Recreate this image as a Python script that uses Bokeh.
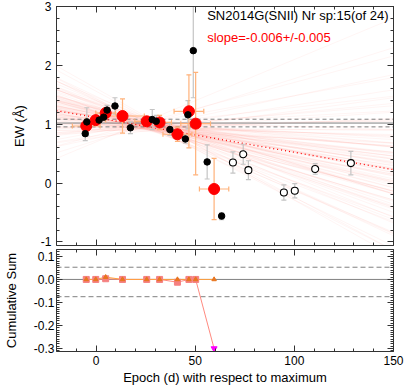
import math
import numpy as np
from bokeh.plotting import figure
from bokeh.models import (LinearAxis, Range1d, Label, CustomJSTickFormatter, FixedTicker)
from bokeh.layouts import column
from bokeh.embed import file_html
from bokeh.resources import INLINE

# ---------------- data ----------------
red_epoch = [-5.0, -0.2, 4.8, 13.3, 25.5, 32.0, 41.0, 46.8, 50.2, 59.5]
red_ew = [0.97, 1.07, 1.19, 1.14, 1.05, 1.03, 0.83, 1.22, 1.01, -0.10]
red_ew_err = [0.05, 0.06, 0.08, 0.29, 0.08, 0.12, 0.12, 0.62, 0.87, 0.52]
red_epoch_err = [7.0, 5.0, 5.0, 11.0, 6.0, 6.0, 7.3, 7.5, 7.5, 7.4]

black_epoch = [-5.5, -4.7, 1.5, 3.8, 5.5, 9.5, 17.3, 28.3, 30.3, 37.2, 45.0, 46.3, 49.0, 56.0, 63.3]
black_ew = [0.84, 1.04, 1.07, 1.12, 1.24, 1.31, 0.94, 1.08, 1.05, 0.91, 0.75, 1.16, 2.25, 0.36, -0.56]
black_ew_err = [0.12, 0.24, 0.05, 0.06, 0.08, 0.14, 0.10, 0.17, 0.10, 0.10, 0.07, 0.24, 0.80, 0.29, 0.06]

open_epoch = [69.0, 74.2, 76.8, 94.7, 100.2, 110.5, 128.5]
open_ew = [0.35, 0.49, 0.22, -0.16, -0.13, 0.24, 0.34]
open_ew_err = [0.18, 0.17, 0.16, 0.13, 0.12, 0.09, 0.20]

ew_mean = 1.02
ew_mean_lo = 0.955
ew_mean_hi = 1.085

fit_slope = -0.0059
fit_at_zero = 1.113

# Monte-Carlo fit realisations: slope and value at epoch 30
mc_slope = [-0.0190, -0.0180, -0.0172, -0.0165, -0.0158, -0.0152, -0.0147, -0.0143, -0.0139, -0.0136,
            -0.0130, -0.0127, -0.0124, -0.0121, -0.0119, -0.0116, -0.0114, -0.0110, -0.0108, -0.0106,
            -0.0104, -0.0102, -0.0100, -0.0098, -0.0096, -0.0095, -0.0092, -0.0090, -0.0089, -0.0087,
            -0.0086, -0.0085, -0.0084, -0.0083, -0.0080, -0.0078, -0.0077, -0.0075, -0.0073, -0.0072,
            -0.0070, -0.0069, -0.0067, -0.0066, -0.0065, -0.0063, -0.0062, -0.0061, -0.0060, -0.0058,
            -0.0057, -0.0055, -0.0054, -0.0053, -0.0051, -0.0050, -0.0049, -0.0048, -0.0046, -0.0045,
            -0.0043, -0.0042, -0.0040, -0.0039, -0.0037, -0.0036, -0.0035, -0.0032, -0.0031, -0.0029,
            -0.0028, -0.0026, -0.0025, -0.0023, -0.0020, -0.0019, -0.0016, -0.0014, -0.0012, -0.0010,
            -0.0008, -0.0004, -0.0002, 0.0001, 0.0004, 0.0007, 0.0011, 0.0014, 0.0018, 0.0022,
            0.0027, 0.0032, 0.0038, 0.0045, 0.0052, 0.0062, 0.0072, 0.0090, 0.0105, 0.0140]
mc_val30 = [1.04, 1.02, 0.92, 0.91, 1.00, 0.97, 0.90, 0.88, 0.99, 1.05,
            0.94, 0.87, 0.99, 1.03, 0.86, 0.95, 1.01, 0.93, 0.89, 0.96,
            1.06, 1.04, 0.91, 0.89, 0.98, 1.00, 0.92, 0.94, 1.03, 0.97,
            0.95, 0.88, 1.02, 0.87, 1.00, 0.93, 0.94, 0.97, 1.05, 0.90,
            0.96, 1.01, 1.06, 0.92, 0.93, 0.99, 0.97, 0.88, 0.96, 1.02,
            0.90, 0.91, 0.94, 0.98, 1.03, 0.95, 0.89, 0.98, 0.92, 1.00,
            1.01, 0.96, 0.89, 0.93, 0.97, 1.04, 0.94, 0.90, 0.99, 0.96,
            1.02, 0.99, 0.93, 0.91, 0.98, 1.00, 0.87, 0.96, 0.95, 1.03,
            0.92, 0.94, 0.98, 0.90, 1.01, 0.97, 0.95, 0.93, 1.01, 0.94,
            0.99, 0.97, 1.02, 0.91, 0.96, 1.05, 0.98, 1.08, 1.04, 1.12]

cs_a = [0.0, 0.0, 0.010, 0.0, 0.0, 0.0, 0.0, 0.0, 0.0, 0.0]
cs_b = [0.0, 0.0, 0.003, 0.0, 0.0, 0.0, -0.012, 0.0, 0.0, -0.30]
cs_hi = 0.053
cs_lo = -0.075

x_major = [0, 50, 100, 150]
x_minor = list(range(-20, 151, 10))
ew_major = [-1, 0, 1, 2, 3]
cs_major = [-0.3, -0.2, -0.1, 0.0, 0.1]

X0, X1 = -20, 150
FONT = "Liberation Sans"
AX = "#333333"

# ---------------- helpers ----------------
def style_axis(ax, ticker, fmt, show=True, size="12px", standoff=4):
    ax.ticker = ticker
    ax.formatter = CustomJSTickFormatter(code=fmt)
    ax.major_tick_in = 6
    ax.major_tick_out = 0
    ax.minor_tick_in = 3
    ax.minor_tick_out = 0
    ax.axis_line_color = AX
    ax.major_tick_line_color = AX
    ax.minor_tick_line_color = AX
    ax.major_label_text_font = FONT
    ax.axis_label_text_font = FONT
    ax.axis_label_text_font_style = "normal"
    ax.axis_label_text_font_size = "13px"
    ax.axis_label_text_color = "black"
    if show:
        ax.major_label_text_color = "black"
        ax.major_label_text_font_size = size
        ax.major_label_standoff = standoff
    else:
        ax.formatter = CustomJSTickFormatter(code='return "";')
        ax.major_label_text_color = None
        ax.major_label_text_font_size = "0px"
        ax.major_label_standoff = 0

def make_fig(y0, y1, h, top_b, bot_b):
    f = figure(width=405, height=h,
               x_range=Range1d(X0, X1), y_range=Range1d(y0, y1),
               output_backend="svg", toolbar_location=None,
               min_border_left=53, min_border_right=12,
               min_border_top=top_b, min_border_bottom=bot_b)
    f.grid.visible = False
    f.outline_line_color = None
    f.background_fill_color = "white"
    f.border_fill_color = "white"
    return f

# ---------------- top panel ----------------
top = make_fig(-1.06, 3.0, 249, 6, 4)

ytick_top = FixedTicker(ticks=ew_major, minor_ticks=[round(v, 2) for v in np.arange(-1.0, 3.01, 0.2)])
xtick = FixedTicker(ticks=x_major, minor_ticks=x_minor)

style_axis(top.yaxis[0], ytick_top, "return tick.toFixed(0);", show=True, standoff=5)
top.yaxis[0].axis_label = "EW (Å)"
top.yaxis[0].axis_label_standoff = 11
style_axis(top.xaxis[0], xtick, "", show=False)

ax_r = LinearAxis()
style_axis(ax_r, ytick_top, "", show=False)
top.add_layout(ax_r, "right")
ax_t = LinearAxis()
style_axis(ax_t, xtick, "", show=False)
top.add_layout(ax_t, "above")

# MC fan lines
mc_y0 = [v + s * (X0 - 30) for s, v in zip(mc_slope, mc_val30)]
mc_y1 = [v + s * (X1 - 30) for s, v in zip(mc_slope, mc_val30)]
top.segment(x0=[X0] * len(mc_slope), x1=[X1] * len(mc_slope), y0=mc_y0, y1=mc_y1,
            line_color="#ff7b6b", line_alpha=0.075, line_width=1)

# mean lines
top.segment(x0=[X0], x1=[X1], y0=[ew_mean], y1=[ew_mean], line_color="#808080", line_width=1)
top.segment(x0=[X0, X0], x1=[X1, X1], y0=[ew_mean_lo, ew_mean_hi], y1=[ew_mean_lo, ew_mean_hi],
            line_color="#808080", line_width=1, line_dash="4 3")

# fit line
top.segment(x0=[X0], x1=[X1], y0=[fit_at_zero + fit_slope * X0], y1=[fit_at_zero + fit_slope * X1],
            line_color="red", line_width=1.3, line_dash="1 3")

# error bars
def vbar_err(fig, xs, ys, es, color, width=1.2):
    lo = [y - e for y, e in zip(ys, es)]
    hi = [y + e for y, e in zip(ys, es)]
    fig.segment(x0=xs, x1=xs, y0=lo, y1=hi, line_color=color, line_width=width)
    fig.scatter(x=xs + xs, y=lo + hi, marker="dash", size=5, line_color=color, line_width=width)

def hbar_err(fig, xs, ys, es, color, width=1.2):
    lo = [x - e for x, e in zip(xs, es)]
    hi = [x + e for x, e in zip(xs, es)]
    fig.segment(x0=lo, x1=hi, y0=ys, y1=ys, line_color=color, line_width=width)
    fig.scatter(x=lo + hi, y=ys + ys, marker="dash", size=5, angle=math.pi / 2,
                line_color=color, line_width=width)

vbar_err(top, black_epoch, black_ew, black_ew_err, "#c4c4c4")
vbar_err(top, open_epoch, open_ew, open_ew_err, "#c4c4c4")
vbar_err(top, red_epoch, red_ew, red_ew_err, "#ffb27a")
hbar_err(top, red_epoch, red_ew, red_epoch_err, "#ffb27a")

top.scatter(x=red_epoch, y=red_ew, size=11, fill_color="#ff0000", line_color="#ff0000")
top.scatter(x=black_epoch, y=black_ew, size=6.5, fill_color="black", line_color="black")
top.scatter(x=open_epoch, y=open_ew, size=7, fill_color="white", line_color="black", line_width=1.1)

top.add_layout(Label(x=56, y=2.84, text="SN2014G(SNII)  Nr sp:15(of 24)", text_font=FONT,
                     text_font_size="13px", text_color="black", text_baseline="middle"))
top.add_layout(Label(x=56, y=2.48, text="slope=-0.006+/-0.005", text_font=FONT,
                     text_font_size="13px", text_color="red", text_baseline="middle"))

# ---------------- bottom panel ----------------
bot = make_fig(-0.313, 0.13, 138, 0, 36)
ytick_bot = FixedTicker(ticks=cs_major, minor_ticks=[round(v, 3) for v in np.arange(-0.31, 0.121, 0.01)])

style_axis(bot.yaxis[0], ytick_bot, "return tick.toFixed(1);", show=True, standoff=2)
bot.yaxis[0].axis_label = "Cumulative Sum"
bot.yaxis[0].axis_label_standoff = 12
style_axis(bot.xaxis[0], xtick, "return tick.toFixed(0);", show=True, standoff=4)
bot.xaxis[0].axis_label = "Epoch (d) with respect to maximum"
bot.xaxis[0].axis_label_standoff = 2

bx_r = LinearAxis()
style_axis(bx_r, ytick_bot, "", show=False)
bot.add_layout(bx_r, "right")
bx_t = LinearAxis()
style_axis(bx_t, xtick, "", show=False)
bot.add_layout(bx_t, "above")

bot.segment(x0=[X0], x1=[X1], y0=[0], y1=[0], line_color="#808080", line_width=1)
bot.segment(x0=[X0, X0], x1=[X1, X1], y0=[cs_hi, cs_lo], y1=[cs_hi, cs_lo],
            line_color="#808080", line_width=1, line_dash="5 3")

bot.line(x=red_epoch, y=cs_b, line_color="#ff8a80", line_width=1)
bot.line(x=red_epoch, y=cs_a, line_color="#ffa040", line_width=1)
bot.scatter(x=red_epoch[:-1], y=cs_b[:-1], marker="square", size=6,
            fill_color="#f58080", line_color="#f58080")
bot.scatter(x=red_epoch, y=cs_a, marker="triangle", size=4.5,
            fill_color="#e8751e", line_color="#e8751e")
bot.scatter(x=red_epoch[-1:], y=cs_b[-1:], marker="inverted_triangle", size=6,
            fill_color="#ff00ff", line_color="#ff00ff")

layout = column(top, bot, spacing=0)
open("out.html", "w").write(file_html(layout, INLINE))
